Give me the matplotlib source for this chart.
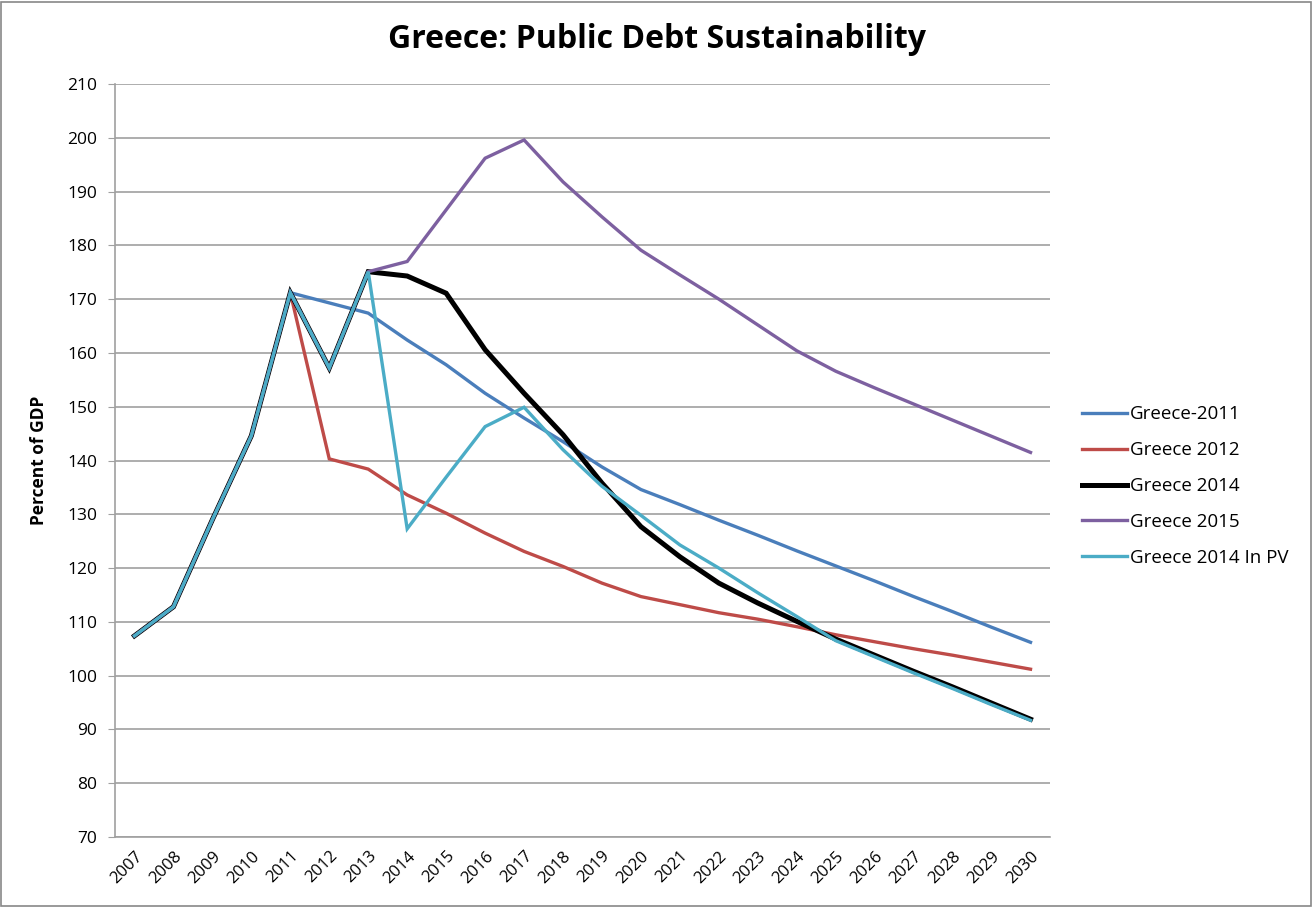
import matplotlib.pyplot as plt
from matplotlib.patches import Rectangle

years = list(range(2007, 2031))

greece_2011 = [107.4, 112.8, 129.0, 144.6, 171.2, 169.3, 167.4, 162.4, 157.8, 152.5,
               147.9, 143.5, 138.8, 134.6, 131.8, 128.9, 126.1, 123.2, 120.4, 117.6,
               114.7, 111.9, 109.0, 106.2]
greece_2012 = [107.4, 112.8, 129.0, 144.6, 171.2, 140.3, 138.4, 133.6, 130.2, 126.5,
               123.1, 120.3, 117.2, 114.7, 113.2, 111.7, 110.5, 109.1, 107.6, 106.3,
               105.0, 103.8, 102.5, 101.2]
greece_2014 = [107.4, 112.8, 129.0, 144.6, 171.2, 157.2, 175.1, 174.3, 171.1, 160.6,
               152.5, 144.8, 135.8, 127.7, 122.1, 117.2, 113.5, 110.1, 106.8, 103.8,
               100.8, 97.9, 94.9, 91.9]
greece_2015 = [107.4, 112.8, 129.0, 144.6, 171.2, 157.2, 175.1, 177.0, 186.6, 196.2,
               199.6, 191.8, 185.3, 179.1, 174.5, 170.0, 165.2, 160.4, 156.6, 153.5,
               150.5, 147.5, 144.5, 141.5]
greece_2014_pv = [107.4, 112.8, 129.0, 144.6, 171.2, 157.2, 175.1, 127.3, 136.9, 146.3,
                  149.9, 142.0, 135.2, 129.8, 124.3, 120.0, 115.4, 111.0, 106.5, 103.5,
                  100.5, 97.6, 94.6, 91.7]

series = [
    ("Greece-2011", greece_2011, "#4A7EBB", 2.4),
    ("Greece 2012", greece_2012, "#BE4B48", 2.4),
    ("Greece 2014", greece_2014, "#000000", 3.6),
    ("Greece 2015", greece_2015, "#7D60A0", 2.4),
    ("Greece 2014 In PV", greece_2014_pv, "#4BACC6", 2.4),
]

plt.rcParams['font.family'] = ['Open Sans', 'DejaVu Sans']

fig = plt.figure(figsize=(13.14, 9.08), dpi=100)
ax = fig.add_axes([115 / 1314, 1 - 837 / 908, (1050 - 115) / 1314, (837 - 84) / 908])

for name, vals, col, lw in series:
    ax.plot(years, vals, color=col, lw=lw, label=name, solid_joinstyle='miter')

ax.set_xlim(2006.5, 2030.5)
ax.set_ylim(70, 210)
ax.set_yticks(range(70, 211, 10))
ax.set_xticks(years)
ax.set_xticklabels([str(y) for y in years], rotation=45, ha='right',
                   rotation_mode='anchor', fontsize=12)
ax.tick_params(axis='y', labelsize=12.5, length=5, color='#a0a0a0', pad=8)
ax.tick_params(axis='x', length=0, pad=8)
ax.yaxis.grid(True, color='#a0a0a0', lw=1.2)
ax.set_axisbelow(True)
for s in ['top', 'right']:
    ax.spines[s].set_visible(False)
for s in ['left', 'bottom']:
    ax.spines[s].set_color('#a0a0a0')
    ax.spines[s].set_linewidth(1.2)

ax.set_ylabel("Percent of GDP", fontsize=12.5, fontweight='bold', labelpad=14)
fig.text(0.5, 1 - 40 / 908, "Greece: Public Debt Sustainability", ha='center',
         va='center', fontsize=23, fontweight='bold')

leg = ax.legend(loc='center left', bbox_to_anchor=(1.016, 0.466), frameon=False,
                fontsize=13.5, handlelength=2.4, handletextpad=0.15, labelspacing=0.95)

fig.patches.append(Rectangle((0.001, 0.002), 0.997, 0.996, transform=fig.transFigure,
                             fill=False, edgecolor='#888888', lw=1.2))

fig.savefig("out.png", dpi=100)
